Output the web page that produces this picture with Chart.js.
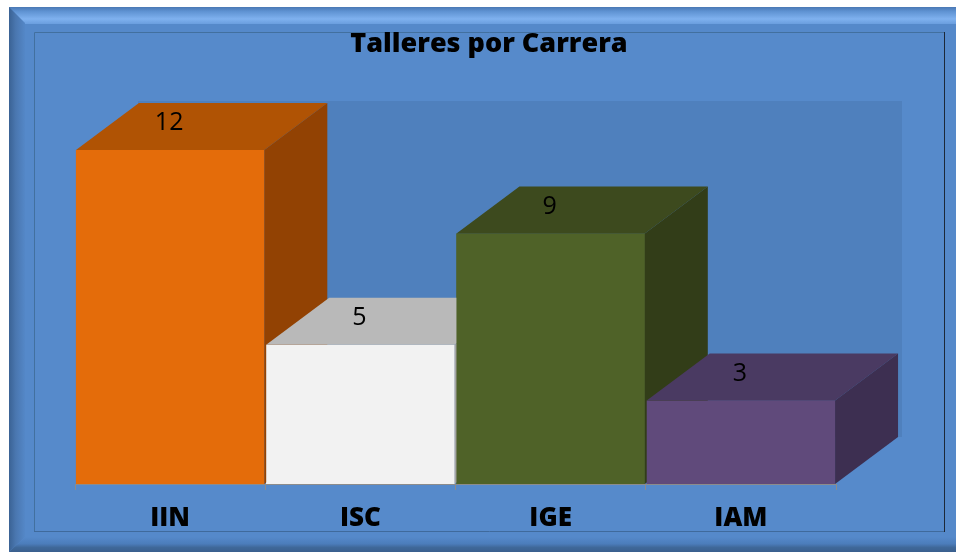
<!DOCTYPE html>
<html><head><meta charset="utf-8">
<script src="https://cdn.jsdelivr.net/npm/chart.js@4.4.0/dist/chart.umd.min.js"></script>
<style>html,body{margin:0;padding:0;background:#fff;overflow:hidden}#wrap{width:956px;height:552px;position:relative}</style>
</head><body><div id="wrap"><canvas id="c" width="956" height="552"></canvas></div>
<script>
const categories = ['IIN', 'ISC', 'IGE', 'IAM'];
const talleres = [12, 5, 9, 3];
const chartTitle = 'Talleres por Carrera';
const yMax = 12;

const frontColors = ['#E46C0A', '#F2F2F2', '#4F6228', '#604A7B'];
const topColors = ['#B05304', '#B9B9B9', '#3D4A1E', '#4A3A62'];
const sideColors = ['#924203', '#A5A5A5', '#323D18', '#3D2F51'];
const DX = 63, DY = 47;
const PANEL = '#5589CA';
const WALL = '#4F80BD';

const framePlugin = {
  id: 'frame',
  beforeDraw(chart) {
    const ctx = chart.ctx, W = chart.width, H = chart.height;
    ctx.save();
    ctx.fillStyle = '#fff'; ctx.fillRect(0, 0, W, H);
    ctx.fillStyle = PANEL; ctx.fillRect(9, 7, W - 9, H - 7);
    let g = ctx.createLinearGradient(0, 7, 0, 24);
    g.addColorStop(0, '#4A78B4'); g.addColorStop(0.25, '#5E92D2');
    g.addColorStop(0.7, '#7FB1EF'); g.addColorStop(1, '#6A9EDE');
    ctx.fillStyle = g;
    ctx.beginPath(); ctx.moveTo(9, 7); ctx.lineTo(W, 7); ctx.lineTo(W, 24); ctx.lineTo(25, 24); ctx.closePath(); ctx.fill();
    g = ctx.createLinearGradient(9, 0, 26, 0);
    g.addColorStop(0, '#3A6294'); g.addColorStop(0.4, '#4A77B0'); g.addColorStop(1, PANEL);
    ctx.fillStyle = g;
    ctx.beginPath(); ctx.moveTo(9, 7); ctx.lineTo(25, 23); ctx.lineTo(25, 537); ctx.lineTo(9, H); ctx.closePath(); ctx.fill();
    g = ctx.createLinearGradient(0, 537, 0, H);
    g.addColorStop(0, PANEL); g.addColorStop(0.45, '#4C7DBB'); g.addColorStop(0.7, '#3F6899'); g.addColorStop(1, '#3A5F8E');
    ctx.fillStyle = g;
    ctx.beginPath(); ctx.moveTo(25, 537); ctx.lineTo(W, 537); ctx.lineTo(W, H); ctx.lineTo(9, H); ctx.closePath(); ctx.fill();
    ctx.fillStyle = '#568ACB'; ctx.fillRect(34, 32, 910, 499);
    ctx.lineWidth = 1;
    ctx.strokeStyle = '#42709F';
    ctx.beginPath(); ctx.moveTo(34.5, 531); ctx.lineTo(34.5, 32.5); ctx.lineTo(944, 32.5); ctx.stroke();
    ctx.strokeStyle = '#3F6A9C';
    ctx.beginPath(); ctx.moveTo(34, 531.5); ctx.lineTo(945, 531.5); ctx.stroke();
    ctx.strokeStyle = '#1C2838';
    ctx.beginPath(); ctx.moveTo(944.5, 32); ctx.lineTo(944.5, 532); ctx.stroke();
    ctx.restore();
  },
  beforeDatasetsDraw(chart) {
    const ctx = chart.ctx, a = chart.chartArea;
    ctx.save();
    ctx.fillStyle = WALL;
    ctx.fillRect(a.left + DX, a.top - DY - 2, a.width + 3, a.bottom - a.top + 2);
    ctx.restore();
  }
};

const bar3dPlugin = {
  id: 'bar3d',
  afterDatasetsDraw(chart) {
    const ctx = chart.ctx;
    const meta = chart.getDatasetMeta(0);
    ctx.save();
    meta.data.forEach((bar, i) => {
      bar.draw(ctx, chart.chartArea);
      const p = bar.getProps(['x', 'y', 'base', 'width'], true);
      const L = p.x - p.width / 2, R = p.x + p.width / 2;
      ctx.fillStyle = topColors[i];
      ctx.beginPath();
      ctx.moveTo(L, p.y); ctx.lineTo(R, p.y); ctx.lineTo(R + DX, p.y - DY); ctx.lineTo(L + DX, p.y - DY);
      ctx.closePath(); ctx.fill();
      ctx.fillStyle = sideColors[i];
      ctx.beginPath();
      ctx.moveTo(R, p.y); ctx.lineTo(R + DX, p.y - DY); ctx.lineTo(R + DX, p.base - DY); ctx.lineTo(R, p.base);
      ctx.closePath(); ctx.fill();
    });
    ctx.fillStyle = '#000';
    ctx.font = '400 25px "Open Sans"';
    ctx.textAlign = 'center';
    ctx.textBaseline = 'middle';
    meta.data.forEach((bar, i) => {
      const p = bar.getProps(['x', 'y'], true);
      ctx.fillText(String(talleres[i]), p.x - 1, p.y - 27);
    });
    ctx.restore();
  }
};

new Chart(document.getElementById('c'), {
  type: 'bar',
  data: {
    labels: categories,
    datasets: [{
      label: chartTitle,
      data: talleres,
      backgroundColor: frontColors,
      borderWidth: 0,
      categoryPercentage: 1,
      barPercentage: 0.99
    }]
  },
  options: {
    responsive: false,
    animation: false,
    devicePixelRatio: 1,
    layout: { padding: { left: 75, right: 53, top: 20, bottom: 0 } },
    plugins: {
      legend: { display: false },
      tooltip: { enabled: false },
      title: {
        display: true,
        text: chartTitle,
        color: '#000',
        font: { family: 'Open Sans', size: 27, weight: 800, lineHeight: 1.2 },
        padding: { top: 8.5, bottom: 89.1 }
      }
    },
    scales: {
      x: {
        grid: { display: true, drawOnChartArea: false, drawTicks: true, tickLength: 6, color: '#8C8C8C', offset: true },
        border: { display: true, color: '#8C8C8C', width: 1 },
        ticks: { color: '#000', font: { family: 'Open Sans', size: 26, weight: 800, lineHeight: 1.2 }, padding: 13 },
        afterFit(s) { s.height = 68; }
      },
      y: {
        position: 'right',
        min: 0, max: yMax,
        grid: { display: false },
        border: { display: false },
        ticks: { display: false },
        afterFit(s) { s.width = 67; }
      }
    }
  },
  plugins: [framePlugin, bar3dPlugin]
});
</script>
</body></html>
